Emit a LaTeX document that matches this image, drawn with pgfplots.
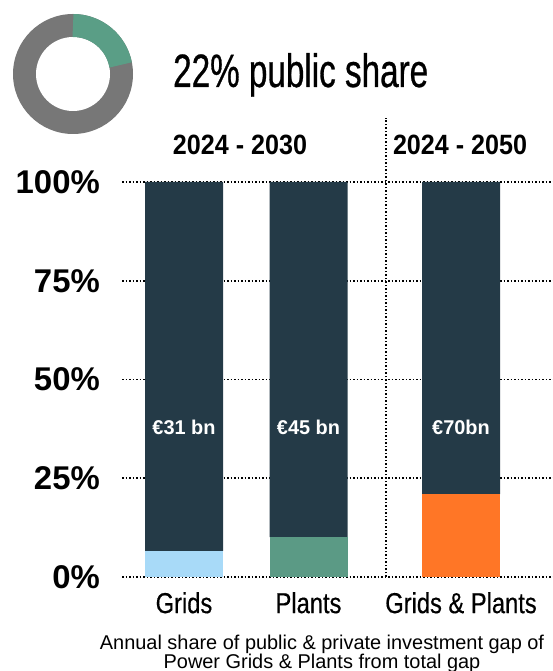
\documentclass[border=0pt]{standalone}
\usepackage{pgfplots}
\pgfplotsset{compat=1.18}
\usepackage{fontspec}
\setmainfont{Liberation Sans}
\newfontfamily\titlefont[FakeStretch=0.71,FakeBold=0.6]{Liberation Sans}
\newfontfamily\condfont[FakeStretch=0.82,FakeBold=0.4]{Liberation Sans}
\newfontfamily\hdrfont[FakeStretch=0.9]{Liberation Sans}
\definecolor{darkbar}{HTML}{243A47}
\definecolor{gridsblue}{HTML}{A8DAF8}
\definecolor{plantsgreen}{HTML}{5B9A85}
\definecolor{bothorange}{HTML}{FF7626}
\definecolor{donutgray}{HTML}{777777}
\definecolor{donutgreen}{HTML}{5A9E86}
\begin{document}
\begin{tikzpicture}[x=1bp,y=1bp]
\path[use as bounding box] (0bp,0bp) rectangle (553bp,671bp);
% donut: 22% public share
\fill[donutgray] (73bp,597bp) circle[radius=60bp];
\fill[white] (73bp,597bp) circle[radius=37bp];
\draw[donutgreen, line width=23bp] (73bp,597bp) ++(90:48.5bp) arc[start angle=90, end angle={90-0.22*360}, radius=48.5bp];
\node[anchor=base west, inner sep=0pt] at (173bp,584bp) {\titlefont\fontsize{47}{50}\selectfont 22\% public share};
\begin{axis}[
  at={(122bp,94bp)}, anchor=south west,
  scale only axis, width=431bp, height=395bp,
  xmin=122, xmax=553, ymin=0, ymax=100,
  ybar stacked, bar width=78,
  axis line style={draw=none}, major tick length=0pt,
  xtick={184,308.5,461}, xticklabels={Grids, Plants, Grids \& Plants},
  ytick={0,25,50,75,100}, yticklabels={0\%,25\%,50\%,75\%,100\%},
  ymajorgrids, grid style={black, line width=1.6bp, dash pattern=on 1.6bp off 1.9bp},
  clip=false,
  yticklabel style={font=\bfseries\fontsize{33}{36}\selectfont, inner sep=0pt, anchor=east, xshift=-22bp},
  xticklabel style={font=\condfont\fontsize{29}{32}\selectfont, inner sep=0pt, anchor=north, yshift=-15bp},
]
\addplot[fill=gridsblue, draw=none] coordinates {(184,6.6) (308.5,0) (461,0)};
\addplot[fill=plantsgreen, draw=none] coordinates {(184,0) (308.5,10.1) (461,0)};
\addplot[fill=bothorange, draw=none] coordinates {(184,0) (308.5,0) (461,21)};
\addplot[fill=darkbar, draw=none] coordinates {(184,93.4) (308.5,89.9) (461,79)};
\coordinate (l1) at (axis cs:184,38);
\coordinate (l2) at (axis cs:308.5,38);
\coordinate (l3) at (axis cs:461,38);
\coordinate (vb) at (axis cs:386,0);
\coordinate (vt) at (axis cs:386,116.2);
\coordinate (h1) at (axis cs:240,109.4);
\coordinate (h2) at (axis cs:460,109.4);
\end{axis}
\node[text=white, font=\bfseries\fontsize{20}{22}\selectfont] at (l1) {€31 bn};
\node[text=white, font=\bfseries\fontsize{20}{22}\selectfont] at (l2) {€45 bn};
\node[text=white, font=\bfseries\fontsize{20}{22}\selectfont] at (l3) {€70bn};
\draw[black, line width=1.6bp, dash pattern=on 1.6bp off 1.9bp] (vb) -- (vt);
\node[font=\hdrfont\bfseries\fontsize{28}{30}\selectfont] at (h1) {2024 - 2030};
\node[font=\hdrfont\bfseries\fontsize{28}{30}\selectfont] at (h2) {2024 - 2050};
\node[anchor=base, inner sep=0pt, font=\fontsize{20}{19}\selectfont] at (322bp,22bp) {Annual share of public \& private investment gap of};
\node[anchor=base, inner sep=0pt, font=\fontsize{20}{19}\selectfont] at (322bp,3bp) {Power Grids \& Plants from total gap};
\end{tikzpicture}
\end{document}
